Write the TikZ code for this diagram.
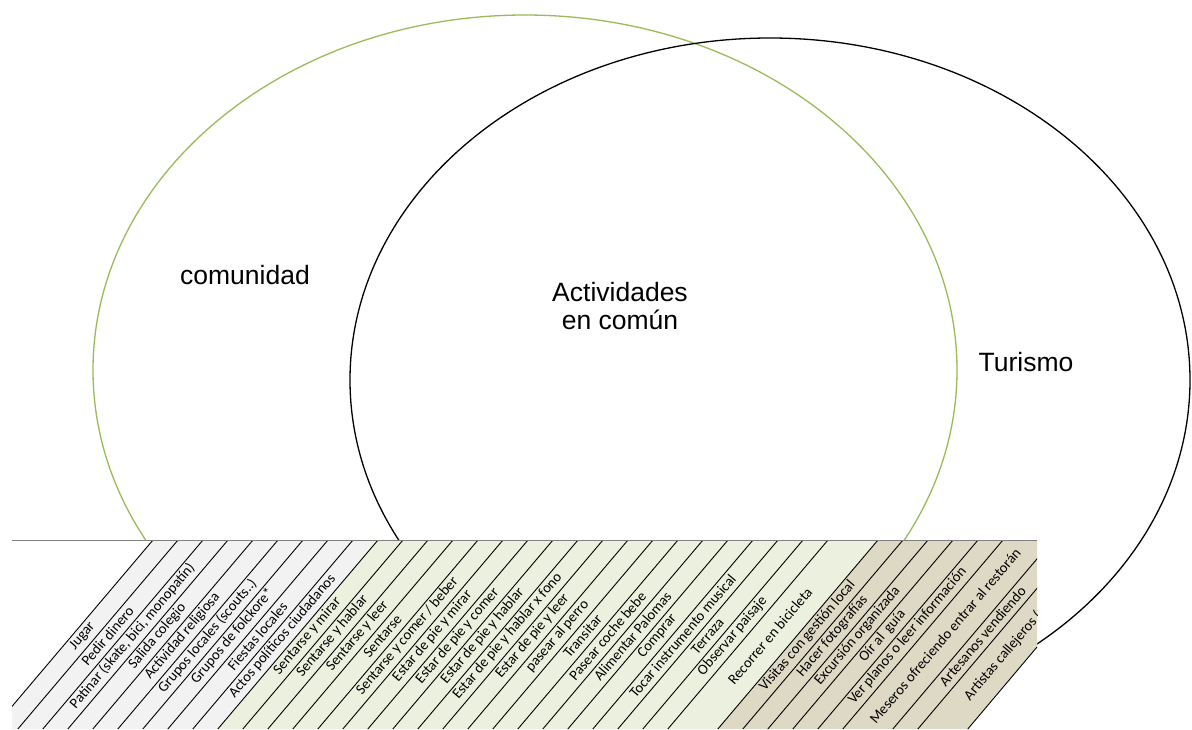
\documentclass[tikz,border=0pt]{standalone}
\usepackage{fontspec}
\setmainfont{Liberation Sans}
\newfontfamily\tabfont{Carlito}
\definecolor{eGreen}{HTML}{9BBB59}
\definecolor{cGray}{HTML}{F2F2F2}
\definecolor{cGreen}{HTML}{EBF1DE}
\definecolor{cTan}{HTML}{DDD9C4}
\def\dd{160.17}
\begin{document}
\begin{tikzpicture}[x=1pt,y=-1pt,
  biglabel/.style={font=\fontsize{26.5}{28.5}\selectfont, align=center, inner sep=0pt},
  collabel/.style={font=\tabfont\fontsize{14.6}{16}\selectfont, rotate=49.7, inner sep=0pt},
  divline/.style={black, line width=0.9pt},
  toprule/.style={black!50, line width=0.8pt}]
\useasboundingbox (0,0) rectangle (1192,729);
\fill[white] (0,0) rectangle (1192,729);
% sets
\draw[eGreen, line width=1.3pt] (525,370) ellipse [x radius=432pt, y radius=355pt];
\draw[black, line width=1.3pt] (770,380) ellipse [x radius=420pt, y radius=342pt];
\node[biglabel] (com) at (245,275) {comunidad};
\node[biglabel] (act) at (620,306) {Actividades\\en común};
\node[biglabel] (tur) at (1026,362) {Turismo};
% table
\fill[white] (12,540) -- (1037,540) -- (1037,647) -- (967.8,729) -- (12,729) -- cycle;
\begin{scope}
\clip (12,540) -- (1037,540) -- (1037,647) -- (967.8,729) -- (12,729) -- cycle;
\fill[cGray]  (153,540) -- (378,540) -- ({378-\dd},729) -- ({153-\dd},729) -- cycle;
\fill[cGreen] (378,540) -- (878,540) -- ({878-\dd},729) -- ({378-\dd},729) -- cycle;
\fill[cTan]   (878,540) -- (1128,540) -- ({1128-\dd},729) -- ({878-\dd},729) -- cycle;
\foreach \v in {153,178,...,828,878,903,928,953,978,1003,1053,1078}
  \draw[divline] (\v,540) -- ({\v-\dd},729);
\foreach \l/\r/\t [count=\i] in {
  153/178/{Jugar},
  178/203/{Pedir dinero},
  203/228/{Patinar (skate, bici, monopatín)},
  228/253/{Salida colegio},
  253/278/{Actividad religiosa},
  278/303/{Grupos locales (scouts..)},
  303/328/{Grupos de folckore*},
  328/353/{Fiestas locales},
  353/378/{Actos políticos ciudadanos},
  378/403/{Sentarse y mirar},
  403/428/{Sentarse y hablar},
  428/453/{Sentarse y leer},
  453/478/{Sentarse},
  478/503/{Sentarse y comer / beber},
  503/528/{Estar de pie y mirar},
  528/553/{Estar de pie y comer},
  553/578/{Estar de pie y hablar},
  578/603/{Estar de pie y hablar x fono},
  603/628/{Estar de pie y leer},
  628/653/{pasear al perro},
  653/678/{Transitar},
  678/703/{Pasear coche bebe},
  703/728/{Alimentar Palomas},
  728/753/{Comprar},
  753/778/{Tocar instrumento musical},
  778/803/{Terraza},
  803/828/{Observar paisaje},
  828/878/{Recorrer en bicicleta},
  878/903/{Visitas con gestión local},
  903/928/{Hacer fotografías},
  928/953/{Excursión organizada},
  953/978/{Oír al\ \ guía},
  978/1003/{Ver planos o leer información},
  1003/1053/{Meseros ofreciendo entrar al restorán},
  1053/1078/{Artesanos vendiendo},
  1078/1128/{Artistas callejeros (músicos)}}
  \node[collabel] (col\i) at ({(\l+\r)/2-83.05},636) {\t};
\end{scope}
\draw[divline] (1037,647) -- (967.8,729);
\draw[toprule] (12,540) -- (1037,540);
\end{tikzpicture}
\end{document}
